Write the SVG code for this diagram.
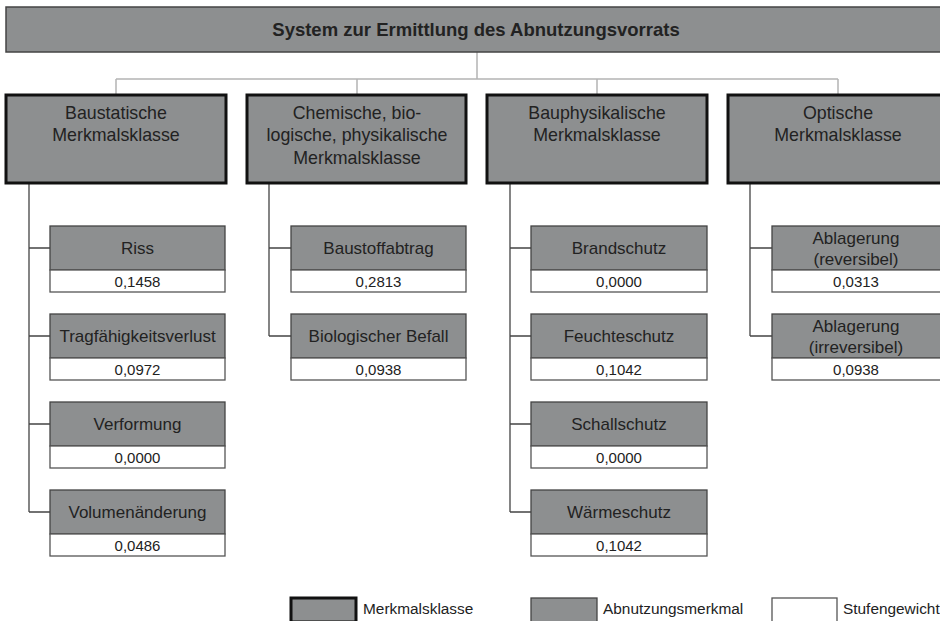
<svg xmlns="http://www.w3.org/2000/svg" width="940" height="621" viewBox="0 0 940 621">
<style>
text{font-family:"Liberation Sans",Arial,sans-serif;fill:#222;text-anchor:middle}
.title{font-size:18.5px;font-weight:bold}
.cls{font-size:17.8px}
.lbl{font-size:17px}
.val{font-size:15px}
.leg{font-size:15.4px;text-anchor:start}
.klasse{fill:#8d8f90;stroke:#111;stroke-width:3}
.merk{fill:#8d8f90;stroke:#444;stroke-width:1.3}
.wert{fill:#fff;stroke:#555;stroke-width:1.3}
.top{fill:none;stroke:#b4b4b4;stroke-width:1.5}
.con{fill:none;stroke:#444;stroke-width:1.3}
</style>
<rect width="940" height="621" fill="#fff"/>
<g id="connectors">
<path class="top" d="M477,52V79M116,79H838M116,79V95M357,79V95M597,79V95M838,79V95"/>
<path class="con" d="M29,183V512M29,248H50M29,336H50M29,424H50M29,512H50"/>
<path class="con" d="M269,183V336M269,248H291M269,336H291"/>
<path class="con" d="M510,183V512M510,248H531M510,336H531M510,424H531M510,512H531"/>
<path class="con" d="M750,183V336M750,248H772M750,336H772"/>
</g>
<g id="title">
<rect x="6" y="7" width="940" height="45" fill="#8d8f90" stroke="#444" stroke-width="1.5"/>
<text class="title" x="476" y="36">System zur Ermittlung des Abnutzungsvorrats</text>
</g>
<g id="k1">
<rect class="klasse" x="6" y="95" width="220" height="88"/>
<text class="cls" x="116" y="119">Baustatische</text>
<text class="cls" x="116" y="141">Merkmalsklasse</text>
</g>
<g id="k2">
<rect class="klasse" x="247" y="95" width="219" height="88"/>
<text class="cls" x="357" y="119">Chemische, bio-</text>
<text class="cls" x="357" y="141">logische, physikalische</text>
<text class="cls" x="357" y="164">Merkmalsklasse</text>
</g>
<g id="k3">
<rect class="klasse" x="487" y="95" width="220" height="88"/>
<text class="cls" x="597" y="119">Bauphysikalische</text>
<text class="cls" x="597" y="141">Merkmalsklasse</text>
</g>
<g id="k4">
<rect class="klasse" x="728" y="95" width="222" height="88"/>
<text class="cls" x="838" y="119">Optische</text>
<text class="cls" x="838" y="141">Merkmalsklasse</text>
</g>
<g id="m-riss">
<rect class="merk" x="50" y="226" width="175" height="44"/><rect class="wert" x="50" y="270" width="175" height="22"/>
<text class="lbl" x="137.5" y="254">Riss</text><text class="val" x="137.5" y="286.5">0,1458</text>
</g>
<g id="m-trag">
<rect class="merk" x="50" y="314" width="175" height="44"/><rect class="wert" x="50" y="358" width="175" height="22"/>
<text class="lbl" x="137.5" y="342">Tragfähigkeitsverlust</text><text class="val" x="137.5" y="374.5">0,0972</text>
</g>
<g id="m-verf">
<rect class="merk" x="50" y="402" width="175" height="44"/><rect class="wert" x="50" y="446" width="175" height="22"/>
<text class="lbl" x="137.5" y="430">Verformung</text><text class="val" x="137.5" y="462.5">0,0000</text>
</g>
<g id="m-vol">
<rect class="merk" x="50" y="490" width="175" height="44"/><rect class="wert" x="50" y="534" width="175" height="22"/>
<text class="lbl" x="137.5" y="518">Volumenänderung</text><text class="val" x="137.5" y="550.5">0,0486</text>
</g>
<g id="m-baustoff">
<rect class="merk" x="291" y="226" width="175" height="44"/><rect class="wert" x="291" y="270" width="175" height="22"/>
<text class="lbl" x="378.5" y="254">Baustoffabtrag</text><text class="val" x="378.5" y="286.5">0,2813</text>
</g>
<g id="m-bio">
<rect class="merk" x="291" y="314" width="175" height="44"/><rect class="wert" x="291" y="358" width="175" height="22"/>
<text class="lbl" x="378.5" y="342">Biologischer Befall</text><text class="val" x="378.5" y="374.5">0,0938</text>
</g>
<g id="m-brand">
<rect class="merk" x="531" y="226" width="176" height="44"/><rect class="wert" x="531" y="270" width="176" height="22"/>
<text class="lbl" x="619" y="254">Brandschutz</text><text class="val" x="619" y="286.5">0,0000</text>
</g>
<g id="m-feucht">
<rect class="merk" x="531" y="314" width="176" height="44"/><rect class="wert" x="531" y="358" width="176" height="22"/>
<text class="lbl" x="619" y="342">Feuchteschutz</text><text class="val" x="619" y="374.5">0,1042</text>
</g>
<g id="m-schall">
<rect class="merk" x="531" y="402" width="176" height="44"/><rect class="wert" x="531" y="446" width="176" height="22"/>
<text class="lbl" x="619" y="430">Schallschutz</text><text class="val" x="619" y="462.5">0,0000</text>
</g>
<g id="m-waerme">
<rect class="merk" x="531" y="490" width="176" height="44"/><rect class="wert" x="531" y="534" width="176" height="22"/>
<text class="lbl" x="619" y="518">Wärmeschutz</text><text class="val" x="619" y="550.5">0,1042</text>
</g>
<g id="m-ablrev">
<rect class="merk" x="772" y="226" width="176" height="44"/><rect class="wert" x="772" y="270" width="176" height="22"/>
<text class="lbl" x="856" y="244">Ablagerung</text><text class="lbl" x="856" y="265">(reversibel)</text><text class="val" x="856" y="286.5">0,0313</text>
</g>
<g id="m-ablirr">
<rect class="merk" x="772" y="314" width="176" height="44"/><rect class="wert" x="772" y="358" width="176" height="22"/>
<text class="lbl" x="856" y="332">Ablagerung</text><text class="lbl" x="856" y="353">(irreversibel)</text><text class="val" x="856" y="374.5">0,0938</text>
</g>
<g id="legend">
<rect class="klasse" x="291" y="598" width="65" height="24"/>
<text class="leg" x="363" y="614">Merkmalsklasse</text>
<rect class="merk" x="531" y="598" width="66" height="24"/>
<text class="leg" x="603" y="614">Abnutzungsmerkmal</text>
<rect class="wert" x="772" y="598" width="65" height="24"/>
<text class="leg" x="843" y="614">Stufengewicht</text>
</g>
</svg>
